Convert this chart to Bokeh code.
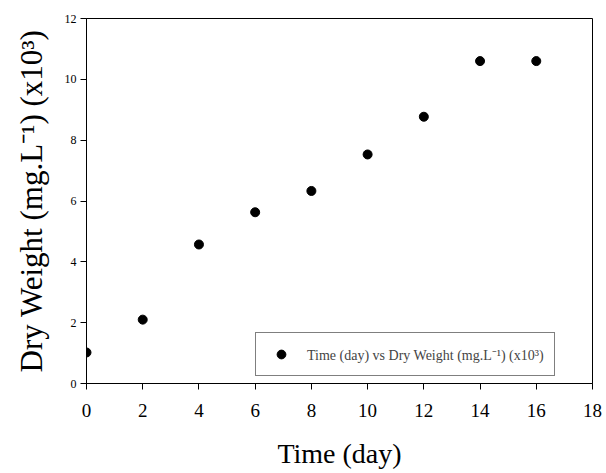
from bokeh.plotting import figure
from bokeh.models import Range1d, FixedTicker, Legend, LegendItem
from bokeh.embed import file_html
from bokeh.resources import INLINE

time_day = [0, 2, 4, 6, 8, 10, 12, 14, 16]
dry_weight = [1.02, 2.1, 4.57, 5.63, 6.33, 7.53, 8.77, 10.6, 10.6]
x_ticks = [0, 2, 4, 6, 8, 10, 12, 14, 16, 18]
y_ticks = [0, 2, 4, 6, 8, 10, 12]

p = figure(width=606, height=473, output_backend="svg", toolbar_location=None,
           x_range=Range1d(0, 18), y_range=Range1d(0, 12),
           min_border_left=86, min_border_right=14, min_border_top=18, min_border_bottom=90)
p.grid.visible = False
p.outline_line_color = "black"
p.outline_line_width = 1
p.background_fill_color = "white"
p.border_fill_color = "white"

r = p.scatter(time_day, dry_weight, size=9, color="black")

FONT = "Liberation Serif"
p.xaxis.ticker = FixedTicker(ticks=x_ticks)
p.yaxis.ticker = FixedTicker(ticks=y_ticks)
for ax in (p.xaxis[0], p.yaxis[0]):
    ax.axis_line_color = "black"
    ax.major_tick_line_color = "black"
    ax.minor_tick_line_color = None
    ax.major_tick_out = 6
    ax.major_tick_in = 0
    ax.major_label_text_font = FONT
    ax.axis_label_text_font = FONT
    ax.axis_label_text_font_style = "normal"
    ax.axis_label_text_color = "black"
    ax.major_label_text_color = "black"

p.xaxis.axis_label = "Time (day)"
p.xaxis.major_label_text_font_size = "19px"
p.xaxis.axis_label_text_font_size = "28px"
p.xaxis.major_label_standoff = 14
p.xaxis.axis_label_standoff = 18

p.yaxis.axis_label = "Dry Weight (mg.L⁻¹) (x10³)"
p.yaxis.major_label_text_font_size = "12px"
p.yaxis.axis_label_text_font_size = "31px"
p.yaxis.major_label_standoff = 4
p.yaxis.axis_label_standoff = 13

legend = Legend(items=[LegendItem(label="Time (day) vs Dry Weight (mg.L⁻¹) (x10³)", renderers=[r])],
                location=(169, 7), border_line_color="black", border_line_width=1,
                label_text_font=FONT, label_text_font_size="14px",
                padding=10, glyph_width=30, glyph_height=22, label_height=22,
                label_standoff=11, margin=0, background_fill_alpha=1)
p.add_layout(legend, "center")

open("out.html", "w").write(file_html(p, INLINE))
